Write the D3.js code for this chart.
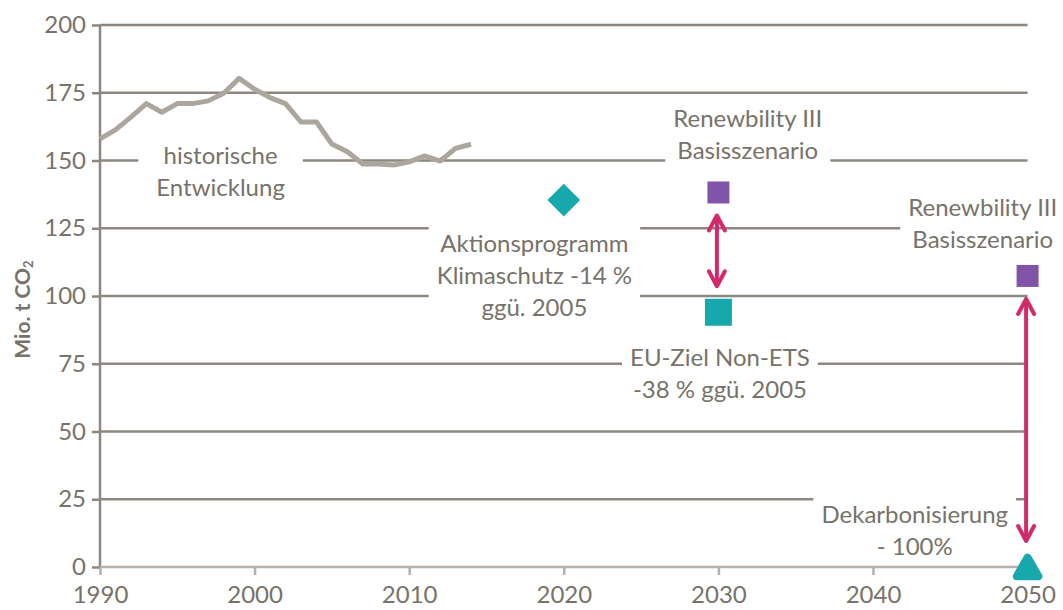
<!DOCTYPE html>
<html>
<head>
<meta charset="utf-8">
<script src="https://cdn.jsdelivr.net/npm/d3@7/dist/d3.min.js"></script>
<style>
  body { margin: 0; background: #fff; }
  svg { display: block; font-family: Lato, 'Open Sans', sans-serif; }
</style>
</head>
<body>
<svg id="chart" width="1063" height="610"></svg>
<script>
// historische Entwicklung
const histYears = [1990, 1991, 1992, 1993, 1994, 1995, 1996, 1997, 1998, 1999,
                   2000, 2001, 2002, 2003, 2004, 2005, 2006, 2007, 2008, 2009,
                   2010, 2011, 2012, 2013, 2014];
const histValues = [158, 161.3, 166, 171, 167.8, 171, 171, 172, 174.8, 180.3,
                    176.3, 173.2, 171, 164.2, 164.2, 156.1, 153.2, 148.7, 148.7, 148.3,
                    149.5, 151.7, 149.8, 154.5, 156];

// Zielwerte
const targetNames  = ['aktion', 'renew2030', 'eu', 'renew2050', 'dekarb'];
const targetYears  = [2020, 2030, 2030, 2050, 2050];
const targetValues = [135.4, 138.2, 94, 107.4, 0];

// Pfeile zwischen Zielwerten (index from -> to)
const arrowPairs = [[1, 2], [3, 4]];

// Beschriftungen
const labelLines = [
  ['historische', 'Entwicklung'],
  ['Aktionsprogramm', 'Klimaschutz -14 %', 'ggü. 2005'],
  ['Renewbility III', 'Basisszenario'],
  ['Renewbility III', 'Basisszenario'],
  ['EU-Ziel Non-ETS', '-38 % ggü. 2005'],
  ['Dekarbonisierung', '- 100%']
];
const labelYears  = [1997.8, 2018.1, 2031.9, 2047.1, 2030.1, 2042.7];
const labelValues = [146, 107.6, 159.7, 126.6, 71.2, 13.3];

const yTicks = [0, 25, 50, 75, 100, 125, 150, 175, 200];
const xTicks = [1990, 2000, 2010, 2020, 2030, 2040, 2050];

const textCol = '#77726a';
const gridCol = '#8d887f';
const teal = '#16a8ad';
const purple = '#8254a8';
const crimson = '#d42a6a';

const svg = d3.select('#chart');

const x = d3.scaleLinear().domain([1990, 2050]).range([100, 1027.6]);
const y = d3.scaleLinear().domain([0, 200]).range([567, 25]);

// gridlines
svg.append('g')
  .selectAll('line')
  .data(yTicks.filter(d => d > 0))
  .enter()
  .append('line')
  .attr('x1', x(1990))
  .attr('x2', x(2050))
  .attr('y1', d => y(d))
  .attr('y2', d => y(d))
  .attr('stroke', gridCol)
  .attr('stroke-width', 2.5)

// label boxes + text
const labels = svg.append('g')
  .selectAll('g')
  .data(labelLines)
  .enter()
  .append('g')
  .attr('transform', (d, i) => `translate(${x(labelYears[i])},${y(labelValues[i])})`)

const lineH = 32;
labels.append('rect').attr('fill', '#fff');
labels.append('text')
  .attr('fill', textCol)
  .style('font-size', '24px')
  .attr('text-anchor', 'middle')
  .selectAll('tspan')
  .data(d => d.map((t, j) => ({t, j, n: d.length})))
  .enter()
  .append('tspan')
  .attr('x', 0)
  .attr('y', d => (d.j - (d.n - 1) / 2) * lineH)
  .attr('dy', '0.35em')
  .text(d => d.t)

labels.each(function(d, i) {
  const g = d3.select(this);
  const bb = g.select('text').node().getBBox();
  const padX = i === 0 ? 18 : 8;
  g.select('rect')
    .attr('x', bb.x - padX)
    .attr('width', bb.width + 2 * padX)
    .attr('y', bb.y - 4)
    .attr('height', bb.height + 8)
})

// y axis
const yAxis = svg.append('g')
  .attr('transform', `translate(${x(1990)},0)`)
  .call(d3.axisLeft(y).tickValues(yTicks).tickSize(8).tickPadding(6))
yAxis.select('.domain').attr('stroke', gridCol).attr('stroke-width', 2.5)
  .attr('d', `M0,${y(0)}V${y(200)}`)
yAxis.selectAll('.tick line').attr('stroke', gridCol).attr('stroke-width', 2.5)
yAxis.selectAll('.tick text')
  .attr('fill', textCol)
  .style('font-size', '24px')
  .style('font-family', 'Lato, sans-serif')

// x axis
const xAxis = svg.append('g')
  .attr('transform', `translate(0,${y(0)})`)
  .call(d3.axisBottom(x).tickValues(xTicks).tickFormat(d3.format('d')).tickSize(8).tickPadding(11))
xAxis.select('.domain').attr('stroke', '#b5b1aa').attr('stroke-width', 2.5)
  .attr('d', `M${x(1990)},0H${x(2050)}`)
xAxis.selectAll('.tick line').attr('stroke', '#b5b1aa').attr('stroke-width', 2.5)
xAxis.selectAll('.tick text')
  .attr('fill', textCol)
  .style('font-size', '24px')
  .style('font-family', 'Lato, sans-serif')

// axis title
svg.append('text')
  .attr('transform', `translate(30,${y(95)}) rotate(-90)`)
  .attr('text-anchor', 'middle')
  .attr('fill', textCol)
  .style('font-size', '21px')
  .style('font-weight', 'bold')
  .text('Mio. t CO')
  .append('tspan')
  .style('font-size', '13px')
  .attr('dy', 3)
  .text('2')

// historical line
svg.append('path')
  .datum(histYears.map((yr, i) => [yr, histValues[i]]))
  .attr('fill', 'none')
  .attr('stroke', '#aba79f')
  .attr('stroke-width', 5)
  .attr('stroke-linejoin', 'round')
  .attr('d', d3.line().x(d => x(d[0])).y(d => y(d[1])))

// arrows
const arrows = svg.append('g')
  .selectAll('g')
  .data(arrowPairs)
  .enter()
  .append('g')
  .attr('stroke', crimson)
  .attr('stroke-width', 4)
  .attr('stroke-linecap', 'round')
  .attr('stroke-linejoin', 'round')
  .attr('fill', 'none')

arrows.each(function(p) {
  const g = d3.select(this);
  const ax = x(targetYears[p[0]]) - 1.5;
  const y1 = y(targetValues[p[0]]) + 23;
  const y2 = y(targetValues[p[1]]) - 26;
  g.append('line').attr('x1', ax).attr('x2', ax).attr('y1', y1 + 2).attr('y2', y2 - 2);
  g.append('polyline').attr('points', `${ax - 8},${y1 + 15} ${ax},${y1} ${ax + 8},${y1 + 15}`);
  g.append('polyline').attr('points', `${ax - 8},${y2 - 15} ${ax},${y2} ${ax + 8},${y2 - 15}`);
})

// target markers
const markerStyle = {
  aktion:    {type: d3.symbolSquare, size: 534, rot: 45, fill: teal, dy: 0},
  renew2030: {type: d3.symbolSquare, size: 484, rot: 0, fill: purple, dy: 0},
  eu:        {type: d3.symbolSquare, size: 729, rot: 0, fill: teal, dy: 0},
  renew2050: {type: d3.symbolSquare, size: 484, rot: 0, fill: purple, dy: 0},
  dekarb:    {type: d3.symbolTriangle, size: 200, rot: 0, fill: teal, dy: 3}
};

svg.append('g')
  .selectAll('path')
  .data(targetNames)
  .enter()
  .append('path')
  .attr('d', d => d3.symbol().type(markerStyle[d].type).size(markerStyle[d].size)())
  .attr('transform', (d, i) => `translate(${x(targetYears[i])},${y(targetValues[i]) + markerStyle[d].dy}) rotate(${markerStyle[d].rot})`)
  .attr('fill', d => markerStyle[d].fill)
  .attr('stroke', d => d === 'dekarb' ? teal : 'none')
  .attr('stroke-width', 8)
  .attr('stroke-linejoin', 'round')
</script>
</body>
</html>
